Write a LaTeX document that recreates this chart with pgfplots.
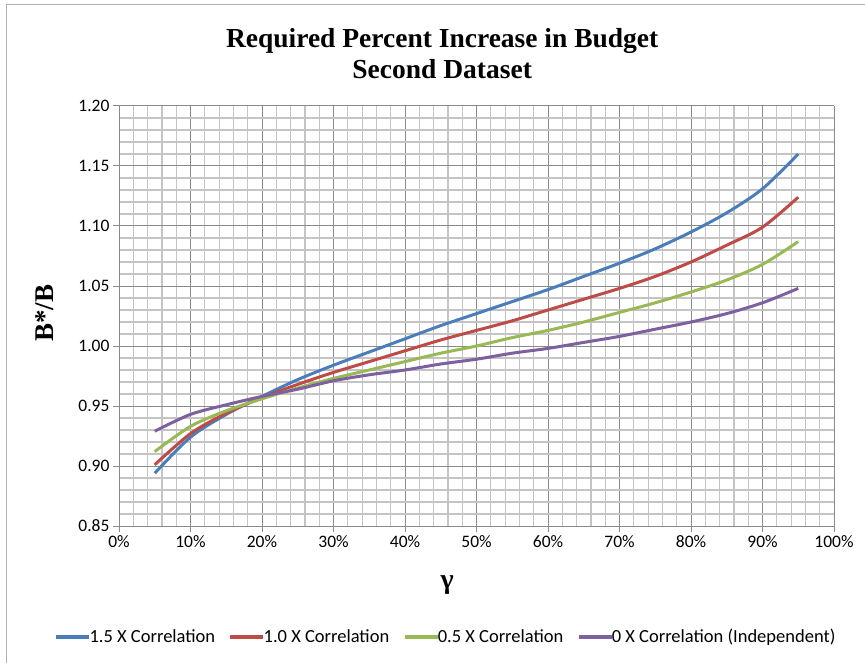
\documentclass[border=0pt]{standalone}
\usepackage{pgfplots}
\pgfplotsset{compat=1.18}
\usepackage{pgfplotstable}
\usepackage{fontspec}
\setmainfont{Carlito}
\newfontfamily\serifb{Liberation Serif}
\definecolor{cblue}{HTML}{4A7EBB}
\definecolor{cred}{HTML}{BE4B48}
\definecolor{cgreen}{HTML}{98B954}
\definecolor{cpurple}{HTML}{7D60A0}
\definecolor{majgrid}{HTML}{8A8A8A}
\definecolor{mingrid}{HTML}{C4C4C4}

\pgfplotstableread{
g   b15    b10    b05    b00
5   0.894  0.901  0.912  0.929
10  0.924  0.927  0.933  0.943
15  0.943  0.944  0.946  0.951
20  0.958  0.957  0.956  0.958
25  0.972  0.968  0.965  0.964
30  0.984  0.978  0.973  0.971
35  0.995  0.987  0.980  0.976
40  1.006  0.996  0.987  0.980
45  1.017  1.005  0.994  0.985
50  1.027  1.013  1.000  0.989
55  1.037  1.021  1.007  0.994
60  1.047  1.030  1.013  0.998
65  1.058  1.039  1.020  1.003
70  1.069  1.048  1.028  1.008
75  1.081  1.058  1.036  1.014
80  1.095  1.070  1.045  1.020
85  1.111  1.084  1.055  1.027
90  1.131  1.099  1.068  1.036
95  1.160  1.124  1.087  1.048
}\datatable

\begin{document}
\begin{tikzpicture}[x=1pt,y=1pt]
\useasboundingbox (0,0) rectangle (865,662);
\draw[gray!60, line width=1pt] (6,-5) -- (6,657) -- (870,657);
\begin{axis}[
  at={(119pt,136pt)}, anchor=south west,
  width=715pt, height=420pt, scale only axis,
  xmin=0, xmax=100, ymin=0.85, ymax=1.20,
  xtick={0,10,...,100}, ytick={0.85,0.90,...,1.201},
  minor x tick num=4, minor y tick num=4,
  grid=both,
  major grid style={majgrid, line width=1pt},
  minor grid style={mingrid, line width=1.2pt},
  axis lines=left,
  axis line style={-, majgrid, line width=1pt},
  tick align=outside,
  major tick length=6pt, minor tick length=0pt,
  tick style={majgrid, line width=1pt},
  /pgf/number format/assume math mode=true,
  tick label style={font=\fontsize{17.5}{19}\selectfont, black},
  yticklabel style={/pgf/number format/.cd, fixed, fixed zerofill, precision=2},
  xticklabel={\pgfmathprintnumber{\tick}\%},
  title={Required Percent Increase in Budget\\Second Dataset},
  title style={at={(axis description cs:0.452,1.1095)}, anchor=center, align=center,
    font=\serifb\bfseries\fontsize{27.5}{31}\selectfont},
  xlabel={\serifb\bfseries γ},
  xlabel style={at={(axis description cs:0.459,-0.14)}, anchor=center,
    font=\fontsize{28}{30}\selectfont},
  ylabel={B*/B},
  ylabel style={at={(axis description cs:-0.1035,0.507)}, anchor=center,
    font=\serifb\bfseries\fontsize{27}{29}\selectfont},
  legend columns=4,
  legend style={at={(axis description cs:0.457,-0.264)}, anchor=center, draw=none,
    font=\fontsize{18.5}{20}\selectfont,
    /tikz/every even column/.append style={column sep=11pt},
    inner sep=0pt},
  legend image code/.code={\draw[#1, line width=4.5pt] (0pt,0pt) -- (33pt,0pt);},
  legend cell align=left,
]
\addplot[cblue, line width=3pt, smooth] table[x=g, y=b15] {\datatable};
\addlegendentry{\hspace{-4pt}1.5 X Correlation}
\addplot[cred, line width=3pt, smooth] table[x=g, y=b10] {\datatable};
\addlegendentry{\hspace{-4pt}1.0 X Correlation}
\addplot[cgreen, line width=3pt, smooth] table[x=g, y=b05] {\datatable};
\addlegendentry{\hspace{-4pt}0.5 X Correlation}
\addplot[cpurple, line width=3pt, smooth] table[x=g, y=b00] {\datatable};
\addlegendentry{\hspace{-4pt}0 X Correlation (Independent)}
\end{axis}
\end{tikzpicture}
\end{document}
